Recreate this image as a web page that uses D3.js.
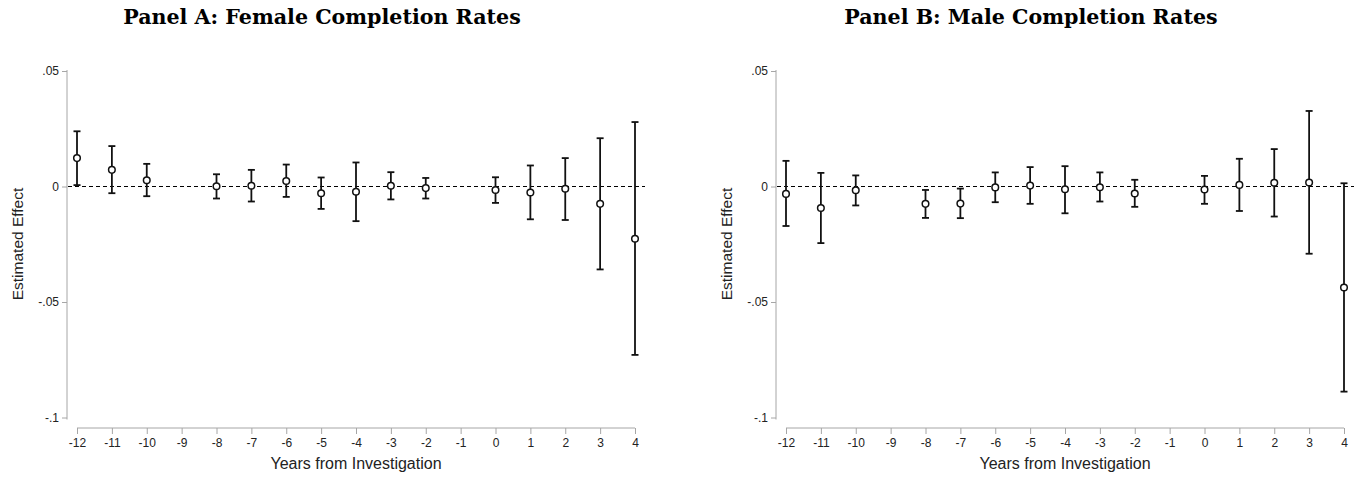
<!DOCTYPE html>
<html><head><meta charset="utf-8">
<script src="https://cdn.jsdelivr.net/npm/d3@7"></script>
<style>body{margin:0;background:#fff}svg{display:block}</style>
</head><body>
<script>
const years = [-12,-11,-10,-8,-7,-6,-5,-4,-3,-2,0,1,2,3,4];
const xTicks = [-12,-11,-10,-9,-8,-7,-6,-5,-4,-3,-2,-1,0,1,2,3,4];
const yTicks = [0.05,0,-0.05,-0.1];
const yTickLabels = [".05","0","-.05","-.1"];

const femaleEst = [0.0123,0.0072,0.0027,0.0001,0.0003,0.0024,-0.0029,-0.0023,0.0003,-0.0007,-0.0015,-0.0026,-0.0010,-0.0075,-0.0226];
const femaleHi  = [0.0239,0.0175,0.0098,0.0053,0.0072,0.0095,0.0039,0.0104,0.0062,0.0037,0.0040,0.0091,0.0123,0.0209,0.0279];
const femaleLo  = [0.0006,-0.0029,-0.0042,-0.0052,-0.0065,-0.0045,-0.0097,-0.0150,-0.0056,-0.0052,-0.0071,-0.0142,-0.0145,-0.0359,-0.0729];

const maleEst = [-0.0032,-0.0093,-0.0016,-0.0075,-0.0074,-0.0004,0.0004,-0.0012,-0.0003,-0.0030,-0.0013,0.0007,0.0016,0.0017,-0.0437];
const maleHi  = [0.0111,0.0059,0.0048,-0.0015,-0.0009,0.0061,0.0084,0.0088,0.0061,0.0029,0.0046,0.0120,0.0162,0.0327,0.0014];
const maleLo  = [-0.0171,-0.0245,-0.0082,-0.0136,-0.0137,-0.0068,-0.0075,-0.0116,-0.0065,-0.0088,-0.0075,-0.0106,-0.0130,-0.0291,-0.0888];

const titles = ["Panel A: Female Completion Rates","Panel B: Male Completion Rates"];
const xTitle = "Years from Investigation";
const yTitle = "Estimated Effect";

const W = 1358, H = 478;
const svg = d3.select("body").append("svg").attr("width",W).attr("height",H);
const axisColor = "#a6a6a6";
const sans = "'Liberation Sans', Arial, sans-serif";

function panel(ox, title, est, hi, lo, dashEnd) {
  const g = svg.append("g").attr("transform",`translate(${ox},0)`);
  const yAxisX = 67;
  const x = d3.scaleLinear().domain([-12,4]).range([77,635]);
  const y = d3.scaleLinear().domain([-0.1,0.05]).range([417.5,71]);

  // title
  g.append("text").attr("x",322).attr("y",24).attr("text-anchor","middle")
    .attr("font-family","'DejaVu Serif', 'Liberation Serif', serif").attr("font-weight","bold")
    .attr("font-size",20.6).text(title);

  // y axis
  const ya = g.append("g").attr("transform",`translate(${yAxisX},0)`)
    .call(d3.axisLeft(y).tickValues(yTicks).tickSize(5).tickPadding(3)
      .tickFormat((d,i)=>yTickLabels[i]));
  ya.selectAll(".tick line").attr("stroke",axisColor);
  ya.selectAll(".tick text").attr("font-family",sans).attr("font-size",12).attr("fill","#222");
  ya.select(".domain").attr("stroke",axisColor).attr("d",`M0,${y(0.05)-1}V${y(-0.1)+2}`);

  // x axis
  const xa = g.append("g").attr("transform",`translate(0,428)`)
    .call(d3.axisBottom(x).tickValues(xTicks).tickSize(6).tickPadding(4).tickFormat(d=>String(d)));
  xa.select(".domain").attr("stroke",axisColor).attr("d",`M${x(-12)},0H${x(4)}`);
  xa.selectAll(".tick line").attr("stroke",axisColor);
  xa.selectAll(".tick text").attr("font-family",sans).attr("font-size",12).attr("fill","#222");

  // axis titles
  g.append("text").attr("x",356).attr("y",469).attr("text-anchor","middle")
    .attr("font-family",sans).attr("font-size",16).attr("fill","#222").text(xTitle);
  g.append("text").attr("transform",`translate(23,244) rotate(-90)`).attr("text-anchor","middle")
    .attr("font-family",sans).attr("font-size",15.5).attr("fill","#222").text(yTitle);

  // zero dashed line
  g.append("line").attr("x1",yAxisX+1).attr("x2",dashEnd).attr("y1",y(0)).attr("y2",y(0))
    .attr("stroke","#000").attr("stroke-width",1.2).attr("stroke-dasharray","4,3");

  const data = years.map((yr,i)=>({yr, e:est[i], h:hi[i], l:lo[i]}));
  const bars = g.append("g").attr("stroke","#111").attr("stroke-width",1.8);
  data.forEach(d=>{
    bars.append("line").attr("x1",x(d.yr)).attr("x2",x(d.yr)).attr("y1",y(d.h)).attr("y2",y(d.l));
    bars.append("line").attr("x1",x(d.yr)-3.5).attr("x2",x(d.yr)+3.5).attr("y1",y(d.h)).attr("y2",y(d.h));
    bars.append("line").attr("x1",x(d.yr)-3.5).attr("x2",x(d.yr)+3.5).attr("y1",y(d.l)).attr("y2",y(d.l));
  });
  g.append("g").selectAll("circle").data(data).join("circle")
    .attr("cx",d=>x(d.yr)).attr("cy",d=>y(d.e)).attr("r",3.3)
    .attr("fill","#fff").attr("stroke","#111").attr("stroke-width",1.5);
}

panel(0, titles[0], femaleEst, femaleHi, femaleLo, 645);
panel(709, titles[1], maleEst, maleHi, maleLo, 645);
</script>
</body></html>
